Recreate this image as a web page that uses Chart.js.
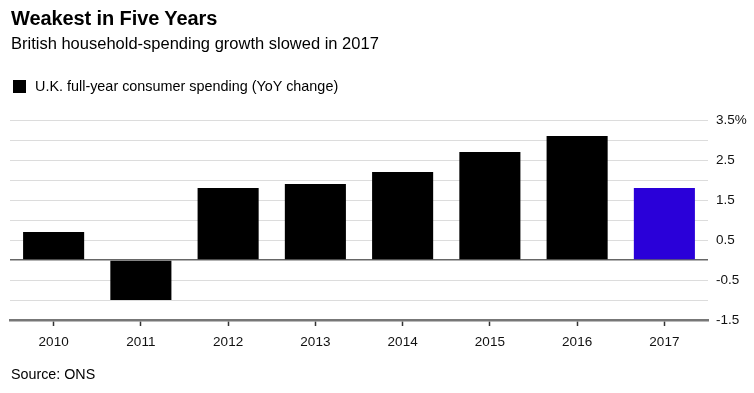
<!DOCTYPE html>
<html>
<head>
<meta charset="utf-8">
<script src="https://cdn.jsdelivr.net/npm/chart.js@4"></script>
<style>
  html, body { margin: 0; padding: 0; background: #fff; }
  body { width: 754px; height: 393px; position: relative; overflow: hidden; font-family: "Liberation Sans", Arial, sans-serif; color: #000; }
  #title { position: absolute; left: 11px; top: 6px; font-size: 20px; font-weight: bold; letter-spacing: -0.1px; line-height: 24px; }
  #subtitle { position: absolute; left: 11px; top: 33px; font-size: 16.5px; line-height: 20px; }
  #legend { position: absolute; left: 13px; top: 77px; font-size: 14.4px; line-height: 18px; display: flex; align-items: center; }
  #legend .sw { width: 13px; height: 13px; background: #000; margin-right: 9px; }
  #source { position: absolute; left: 11px; top: 366px; font-size: 14.3px; line-height: 17px; }
  #wrap { position: absolute; left: 0; top: 0; width: 754px; height: 393px; }
</style>
</head>
<body>
<div id="wrap"><canvas id="c" width="754" height="393"></canvas></div>
<div id="title">Weakest in Five Years</div>
<div id="subtitle">British household-spending growth slowed in 2017</div>
<div id="legend"><div class="sw"></div><span>U.K. full-year consumer spending (YoY change)</span></div>
<div id="source">Source: ONS</div>
<script>
const categories = ["2010", "2011", "2012", "2013", "2014", "2015", "2016", "2017"];
const spending = [0.7, -1.0, 1.8, 1.9, 2.2, 2.7, 3.1, 1.8];
const seriesLabel = "U.K. full-year consumer spending (YoY change)";
const yTickLabels = { "3.5": "3.5%", "2.5": "2.5", "1.5": "1.5", "0.5": "0.5", "-0.5": "-0.5", "-1.5": "-1.5" };

const barColors = categories.map(c => c === "2017" ? "#2a00d9" : "#000000");

new Chart(document.getElementById("c"), {
  type: "bar",
  data: {
    labels: categories,
    datasets: [{
      label: seriesLabel,
      data: spending,
      backgroundColor: barColors,
      borderWidth: 0,
      barPercentage: 0.7,
      categoryPercentage: 1.0
    }]
  },
  options: {
    responsive: false,
    animation: false,
    devicePixelRatio: 1,
    layout: { padding: { top: 120, left: 10, right: 0, bottom: 0 } },
    plugins: { legend: { display: false }, tooltip: { enabled: false }, title: { display: false } },
    scales: {
      x: {
        offset: true,
        afterFit: s => { s.height = 73; },
        grid: { display: true, drawOnChartArea: false, drawTicks: true, tickLength: 6, tickWidth: 1.5, tickColor: "#333", offset: false },
        border: { display: true, color: "#777", width: 2.5 },
        ticks: { color: "#111", font: { family: "Liberation Sans", size: 13.5 }, padding: 8, maxRotation: 0 }
      },
      y: {
        position: "right",
        min: -1.5,
        max: 3.5,
        afterFit: s => { s.width = 46; },
        afterBuildTicks: s => {
          const t = [];
          for (let v = -1.5; v <= 3.5001; v += 0.5) t.push({ value: Math.round(v * 10) / 10 });
          s.ticks = t;
        },
        grid: {
          drawTicks: false,
          color: ctx => (ctx.tick && ctx.tick.value === 0) ? "#666" : "#dcdcdc",
          lineWidth: ctx => (ctx.tick && ctx.tick.value === 0) ? 1.5 : 1
        },
        border: { display: false },
        ticks: {
          autoSkip: false,
          padding: 8,
          color: "#111",
          font: { family: "Liberation Sans", size: 13.5 },
          callback: v => {
            const k = String(Math.round(v * 10) / 10);
            return yTickLabels[k] !== undefined ? yTickLabels[k] : "";
          }
        }
      }
    }
  }
});
</script>
</body>
</html>
